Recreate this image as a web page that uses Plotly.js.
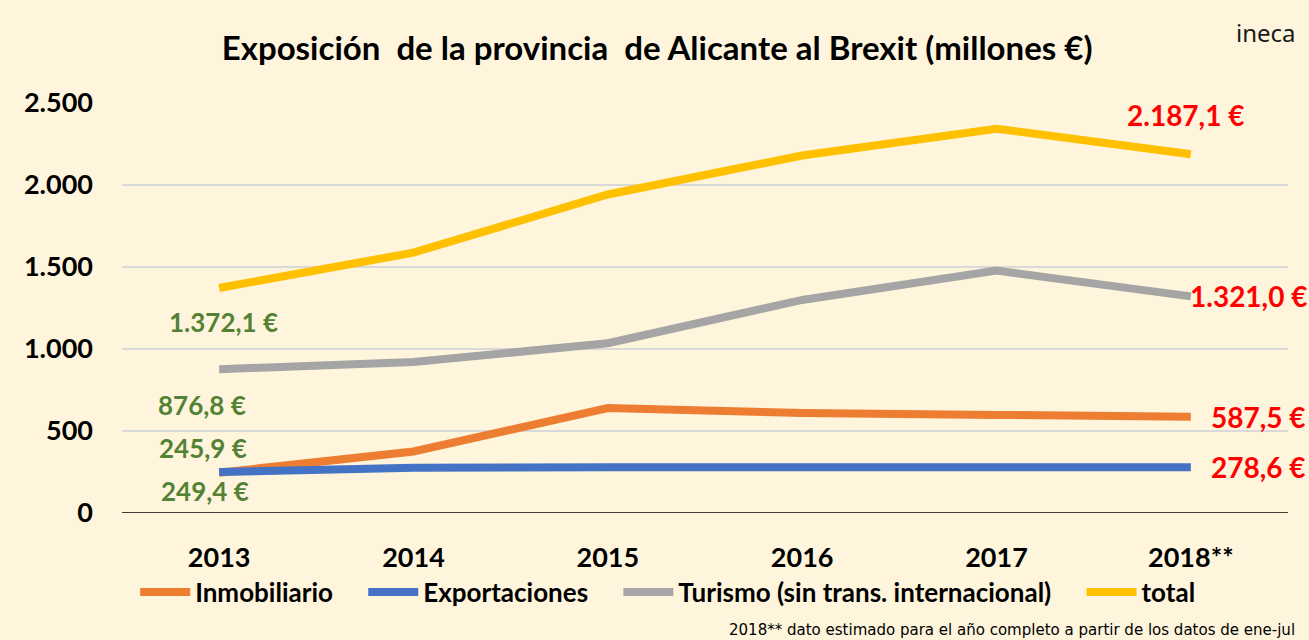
<!DOCTYPE html>
<html>
<head>
<meta charset="utf-8">
<script src="https://cdn.plot.ly/plotly-3.0.1.min.js"></script>
<style>
html,body{margin:0;padding:0;background:#FEF5DC;}
#chart{width:1309px;height:640px;}
</style>
</head>
<body>
<div id="chart"></div>
<script>
var years = ["2013", "2014", "2015", "2016", "2017", "2018**"];
var inmobiliario = [245.9, 375, 640, 610, 598, 587.5];
var exportaciones = [249.4, 276, 279, 279, 279, 278.6];
var turismo = [876.8, 921, 1035, 1299, 1478, 1321.0];
var total = [1372.1, 1588, 1942, 2180, 2343, 2187.1];
var seriesNames = ["Inmobiliario", "Exportaciones", "Turismo (sin trans. internacional)", "total"];
var yTicks = [0, 500, 1000, 1500, 2000, 2500];

var FONT = "Lato, 'Open Sans', sans-serif";
var colors = ["#ED7D31", "#4472C4", "#A5A5A5", "#FFC000"];
var seriesData = [inmobiliario, exportaciones, turismo, total];
var PAD = "\u00A0\u00A0\u00A0\u00A0";

function fmt(v) {
  var s = v.toFixed(1).split(".");
  var intPart = s[0].replace(/\B(?=(\d{3})+(?!\d))/g, ".");
  return intPart + "," + s[1] + " €";
}

var traces = seriesData.map(function (d, i) {
  return {
    x: years, y: d, type: "scatter", mode: "lines",
    name: seriesNames[i] + (i < seriesNames.length - 1 ? PAD : ""),
    line: {color: colors[i], width: 8, shape: "linear"},
    hoverinfo: "skip"
  };
});

var last = years.length - 1;
var green = "#548235", red = "#FF0000";
var annotations = [
  // left (2013) labels
  {i: 0, y: total[0], yshift: -34, xshift: 4, color: green, size: 26},
  {i: 0, y: turismo[0], yshift: -36, xshift: -17, color: green, size: 26},
  {i: 0, y: inmobiliario[0], yshift: 25, xshift: -16, color: green, size: 26},
  {i: 0, y: exportaciones[0], yshift: -19, xshift: -14, color: green, size: 26},
  // right (2018) labels
  {i: last, y: total[last], yshift: 39, xshift: -5, color: red, size: 28},
  {i: last, y: turismo[last], yshift: 0, xshift: 58, color: red, size: 28},
  {i: last, y: inmobiliario[last], yshift: 0, xshift: 68, color: red, size: 28},
  {i: last, y: exportaciones[last], yshift: 0, xshift: 68, color: red, size: 28}
].map(function (a) {
  return {
    x: a.i, y: a.y, xref: "x", yref: "y", text: "<b>" + fmt(a.y) + "</b>", showarrow: false,
    xshift: a.xshift, yshift: a.yshift, xanchor: "center", yanchor: "middle",
    font: {family: FONT, size: a.size, color: a.color}
  };
});

annotations.push({
  xref: "paper", yref: "paper", x: 1.0, y: -0.283, xanchor: "right", yanchor: "middle", xshift: 9,
  text: "2018** dato estimado para el año completo a partir de los datos de ene-jul",
  showarrow: false, font: {family: "'Liberation Sans Narrow', 'DejaVu Sans Condensed', sans-serif", size: 16.7, color: "#000"}
});
annotations.push({
  xref: "paper", yref: "paper", x: 1.0, y: 1.172, xanchor: "right", yanchor: "middle",
  text: "ineca", showarrow: false, xshift: 10,
  font: {family: "'Noto Sans', sans-serif", size: 24, color: "#1a1a1a"}
});

var layout = {
  width: 1309, height: 640,
  paper_bgcolor: "#FEF5DC", plot_bgcolor: "#FEF5DC",
  margin: {l: 122, r: 21, t: 103, b: 127},
  separators: ",.",
  title: {
    text: "<b>Exposición  de la provincia  de Alicante al Brexit (millones €)</b>",
    font: {family: FONT, size: 33, color: "#000"},
    x: 0.502, xanchor: "center", xref: "container", y: 0.925, yanchor: "middle"
  },
  xaxis: {
    type: "category", range: [-0.5, years.length - 0.5],
    tickvals: years, ticktext: years.map(function (y) { return "<b>" + y + "</b>"; }),
    showgrid: false, zeroline: false, showline: false, ticks: "",
    tickfont: {family: FONT, size: 27, color: "#000"}, ticklabelstandoff: 26
  },
  yaxis: {
    range: [0, 2500], tickvals: yTicks, ticktext: yTicks.map(function (v) { return "<b>" + (v >= 1000 ? Math.floor(v/1000) + "." + String(v % 1000).padStart(3, "0") : String(v)) + "</b>"; }),
    showgrid: true, gridcolor: "#D9D9D9", gridwidth: 1.5, zeroline: false,
    showline: false, ticks: "",
    tickfont: {family: FONT, size: 27, color: "#000"}, ticklabelstandoff: 28
  },
  shapes: [{
    type: "line", xref: "paper", yref: "y", x0: 0, x1: 1, y0: 0, y1: 0,
    line: {color: "#000", width: 1.5}
  }],
  legend: {
    orientation: "h", x: 0.468, xanchor: "center", y: -0.193, yanchor: "middle",
    font: {family: FONT, size: 26, color: "#000", weight: "bold"}, bgcolor: "rgba(0,0,0,0)",
    itemwidth: 50, tracegroupgap: 0
  },
  annotations: annotations,
  showlegend: true
};

Plotly.newPlot("chart", traces, layout, {displayModeBar: false, staticPlot: true});
</script>
</body>
</html>
